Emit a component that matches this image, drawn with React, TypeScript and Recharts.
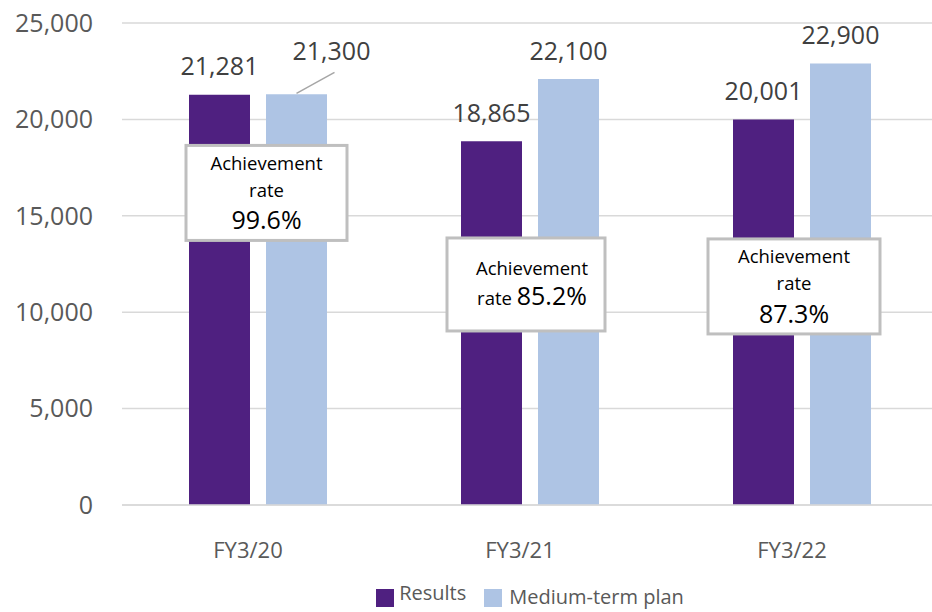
import React from 'react';
import { BarChart, Bar, XAxis, YAxis, CartesianGrid, LabelList, Legend } from 'recharts';

const categories = ['FY3/20', 'FY3/21', 'FY3/22'];
const results = [21281, 18865, 20001];
const plan = [21300, 22100, 22900];
const rates = ['99.6%', '85.2%', '87.3%'];
const yTicks = [0, 5000, 10000, 15000, 20000, 25000];

const PURPLE = '#4f2080';
const BLUE = '#aec4e4';
const TEXT = '#404040';
const AXIS_TEXT = '#595959';
const FONT = '"Open Sans", sans-serif';

const data = categories.map((name, i) => ({ name, results: results[i], plan: plan[i], rate: rates[i] }));

const fmt = (v: number) => v.toLocaleString('en-US');

// placement of the achievement-rate callouts, relative to the plan bar
const rateBoxes = [
  { dx: -80, w: 161, h: 95, top: 18650, inline: false },
  { dx: -91, w: 158, h: 93, top: 13850, inline: true },
  { dx: -102, w: 172, h: 95, top: 13800, inline: false },
];

const ValueLabel = (props: any) => {
  const { x, y, width, value, index, nudge } = props;
  const cx = x + width / 2;
  if (nudge && index === 0) {
    return (
      <g>
        <line x1={cx} y1={y - 1} x2={cx + 38} y2={y - 22} stroke="#a6a6a6" strokeWidth={1.5} />
        <text x={cx + 35} y={y - 43} dy="0.35em" textAnchor="middle" fontSize={25} fill={TEXT} fontFamily={FONT}>
          {fmt(value)}
        </text>
      </g>
    );
  }
  return (
    <text x={cx} y={y - 28} dy="0.35em" textAnchor="middle" fontSize={25} fill={TEXT} fontFamily={FONT}>
      {fmt(value)}
    </text>
  );
};

const RateBox = (props: any) => {
  const { x, y, height, value, index } = props;
  const box = rateBoxes[index];
  if (!box) return null;
  const base = y + height;
  const k = height / value;
  const top = base - box.top * k;
  const left = x + box.dx;
  const cx = left + box.w / 2;
  const rate = rates[index];
  return (
    <g fontFamily={FONT} fill="#000">
      <rect x={left} y={top} width={box.w} height={box.h} fill="#fff" stroke="#bfbfbf" strokeWidth={3} />
      {box.inline ? (
        <>
          <text x={cx + 6} y={top + 31} dy="0.35em" textAnchor="middle" fontSize={18.5}>Achievement</text>
          <text x={cx + 6} y={top + 61} dy="0.35em" textAnchor="middle">
            <tspan fontSize={18.5}>rate </tspan>
            <tspan fontSize={25}>{rate}</tspan>
          </text>
        </>
      ) : (
        <>
          <text x={cx} y={top + 18} dy="0.35em" textAnchor="middle" fontSize={18.5}>Achievement</text>
          <text x={cx} y={top + 45} dy="0.35em" textAnchor="middle" fontSize={18.5}>rate</text>
          <text x={cx} y={top + 75} dy="0.35em" textAnchor="middle" fontSize={25}>{rate}</text>
        </>
      )}
    </g>
  );
};

const renderLegend = () => (
  <div style={{ display: 'flex', justifyContent: 'center', alignItems: 'flex-end', height: 24, fontSize: 20, color: AXIS_TEXT, fontFamily: FONT }}>
    <span style={{ width: 18, height: 18, background: PURPLE, marginRight: 5 }} />
    <span style={{ lineHeight: '20px', position: 'relative', top: -4, marginRight: 18 }}>Results</span>
    <span style={{ width: 18, height: 18, background: BLUE, marginRight: 7 }} />
    <span style={{ lineHeight: '20px', position: 'relative', top: 0 }}>Medium-term plan</span>
  </div>
);

export default function App() {
  return (
    <div style={{ position: 'absolute', left: 0, top: 0, width: 932, height: 612, overflow: 'hidden', background: '#fff', fontFamily: FONT }}>
      <BarChart
        width={950}
        height={612}
        data={data}
        margin={{ top: 23, right: 12, bottom: 0, left: 0 }}
        barSize={61}
        barGap={16}
      >
        <CartesianGrid vertical={false} stroke="#d9d9d9" strokeWidth={1.5} />
        <XAxis
          dataKey="name"
          height={83}
          tickLine={false}
          axisLine={{ stroke: '#d9d9d9', strokeWidth: 1.5 }}
          tickMargin={31}
          tick={{ fontSize: 22, fill: AXIS_TEXT, dx: -10 }}
        />
        <YAxis
          width={122}
          domain={[0, 25000]}
          ticks={yTicks}
          tickFormatter={fmt}
          tickLine={false}
          axisLine={false}
          tickMargin={23}
          tick={{ fontSize: 25, fill: AXIS_TEXT }}
        />
        <Legend
          content={renderLegend}
          wrapperStyle={{ top: 583, bottom: 'auto', left: 122, width: 816, height: 24 }}
        />
        <Bar dataKey="results" name="Results" fill={PURPLE} isAnimationActive={false}>
          <LabelList dataKey="results" content={(p: any) => <ValueLabel {...p} />} />
        </Bar>
        <Bar dataKey="plan" name="Medium-term plan" fill={BLUE} isAnimationActive={false}>
          <LabelList dataKey="plan" content={(p: any) => <ValueLabel {...p} nudge />} />
          <LabelList dataKey="plan" content={(p: any) => <RateBox {...p} />} />
        </Bar>
      </BarChart>
    </div>
  );
}
